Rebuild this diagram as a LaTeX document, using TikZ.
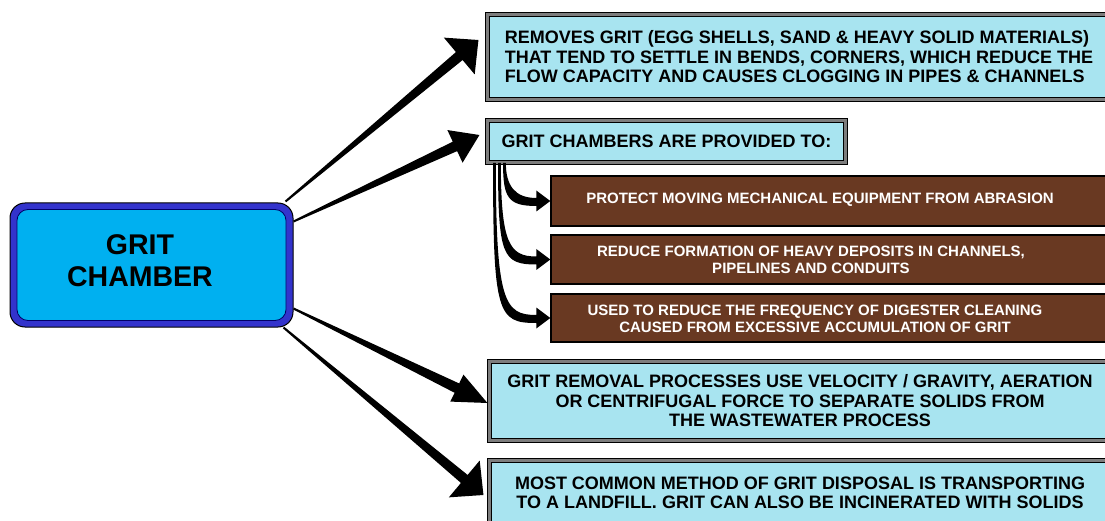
\documentclass[tikz,border=0pt]{standalone}
\usepackage{fontspec}
\setmainfont{Liberation Sans}
\usetikzlibrary{calc}
\definecolor{lblue}{RGB}{168,228,240}
\definecolor{bandgray}{RGB}{125,125,125}
\definecolor{brownbox}{RGB}{105,57,34}
\definecolor{outerblue}{RGB}{51,51,204}
\definecolor{innerblue}{RGB}{0,176,240}
% tapered straight arrow: #1 start, #2 tip, #3 head length, #4 head half width
\newcommand\taperarrow[4]{%
  \fill let \p1=(#1), \p2=(#2), \n1={atan2(\y2-\y1,\x2-\x1)},
            \p3=($(#2)+(\n1+180:#3pt)$) in
    ($(\p1)+(\n1+90:1pt)$) -- ($(\p3)+(\n1+90:5.2pt)$) -- ($(\p3)+(\n1+90:#4pt)$)
    -- (\p2) -- ($(\p3)+(\n1-90:#4pt)$) -- ($(\p3)+(\n1-90:5.2pt)$)
    -- ($(\p1)+(\n1-90:1pt)$) -- cycle;}
% bent arrow going down then right: #1 start (top), #2 tip
\newcommand\bentarrow[2]{%
  \fill let \p1=(#1), \p2=(#2) in
    (\x1-1.4pt,\y1) .. controls (\x1-1.4pt,\y2+4pt) and (\x1+3pt,\y2-5pt) .. (\x2-14pt,\y2-5pt)
    -- (\x2-14pt,\y2-10.5pt) -- (\x2,\y2) -- (\x2-14pt,\y2+10.5pt) -- (\x2-14pt,\y2+3pt)
    .. controls (\x1+10pt,\y2+3pt) and (\x1+1.4pt,\y2+16pt) .. (\x1+1.4pt,\y1) -- cycle;}
\begin{document}
\begin{tikzpicture}[x=1pt,y=-1pt,
  infobox/.style={draw=black, line width=1.1pt, double=bandgray, double distance=3pt,
    fill=lblue, rectangle, inner sep=0pt, align=center,
    font=\fontsize{18}{19.5}\selectfont\bfseries},
  brownrect/.style={draw=black, line width=1.5pt, fill=brownbox, rectangle, inner sep=0pt},
  browntext/.style={text=white, align=center, font=\fontsize{15}{17}\selectfont\bfseries}]
\useasboundingbox (0,0) rectangle (1105,521);
\clip (0,0) rectangle (1105,521);
% central box
\node[draw=black, line width=1pt, fill=outerblue, rounded corners=15pt,
      minimum width=283pt, minimum height=124pt] (gc) at (151.5,265) {};
\node[draw=black!60!blue, line width=0.8pt, fill=innerblue, rounded corners=11pt,
      minimum width=269pt, minimum height=111pt] (gci) at (gc.center) {};
\node[align=center, font=\fontsize{28.5}{32}\selectfont\bfseries] (gct) at (140,261) {GRIT\\CHAMBER};
% right boxes
\node[infobox, minimum width=622.8pt, minimum height=84.8pt, align=left] (b1) at (799,57)
  {REMOVES GRIT (EGG SHELLS, SAND \& HEAVY SOLID MATERIALS)\\
   THAT TEND TO SETTLE IN BENDS, CORNERS, WHICH REDUCE THE\\
   FLOW CAPACITY AND CAUSES CLOGGING IN PIPES \& CHANNELS};
\node[infobox, minimum width=357.8pt, minimum height=41.8pt] (b2) at (666.5,141.5)
  {GRIT CHAMBERS ARE PROVIDED TO:};
\node[brownrect, minimum width=561pt, minimum height=50pt] (pa) at (831.5,201) {};
\node[brownrect, minimum width=561pt, minimum height=49pt] (pb) at (831.5,259.5) {};
\node[brownrect, minimum width=561pt, minimum height=48pt] (pc) at (831.5,318) {};
\node[browntext] (ta) at (820,200) {PROTECT MOVING MECHANICAL EQUIPMENT FROM ABRASION};
\node[browntext] (tb) at (811,259.5) {REDUCE FORMATION OF HEAVY DEPOSITS IN CHANNELS,\\PIPELINES AND CONDUITS};
\node[browntext] (tc) at (815,319) {USED TO REDUCE THE FREQUENCY OF DIGESTER CLEANING\\CAUSED FROM EXCESSIVE ACCUMULATION OF GRIT};
\node[infobox, minimum width=620.8pt, minimum height=78.8pt] (b4) at (800,401)
  {GRIT REMOVAL PROCESSES USE VELOCITY / GRAVITY, AERATION\\
   OR CENTRIFUGAL FORCE TO SEPARATE SOLIDS FROM\\
   THE WASTEWATER PROCESS};
\node[infobox, minimum width=620.8pt, minimum height=64.8pt] (b5) at (800,493)
  {MOST COMMON METHOD OF GRIT DISPOSAL IS TRANSPORTING\\
   TO A LANDFILL. GRIT CAN ALSO BE INCINERATED WITH SOLIDS};
% connector end points
\coordinate (a1s) at ($(gc.north east)+(-8,-1)$);
\coordinate (a2s) at ($(gc.north east)+(0,19)$);
\coordinate (a3s) at ($(gc.south east)+(0,-19)$);
\coordinate (a4s) at ($(gc.south east)+(-10,0)$);
\coordinate (a1t) at ($(b1.west)+(-8.6,-17)$);
\coordinate (a2t) at ($(b2.west)+(-7.6,-6.5)$);
\coordinate (a3t) at ($(b4.west)+(-1.6,2)$);
\coordinate (a4t) at ($(b5.west)+(-5.6,2)$);
\taperarrow{a1s}{a1t}{25}{24}
\taperarrow{a2s}{a2t}{27}{18}
\taperarrow{a3s}{a3t}{34}{15}
\taperarrow{a4s}{a4t}{25}{24}
% bent arrows from b2 to brown boxes
\coordinate (c1s) at ($(b2.south west)+(17.4,0)$);
\coordinate (c2s) at ($(b2.south west)+(12.4,0)$);
\coordinate (c3s) at ($(b2.south west)+(7.4,0)$);
\bentarrow{c1s}{pa.west}
\bentarrow{c2s}{pb.west}
\bentarrow{c3s}{pc.west}
\end{tikzpicture}
\end{document}
